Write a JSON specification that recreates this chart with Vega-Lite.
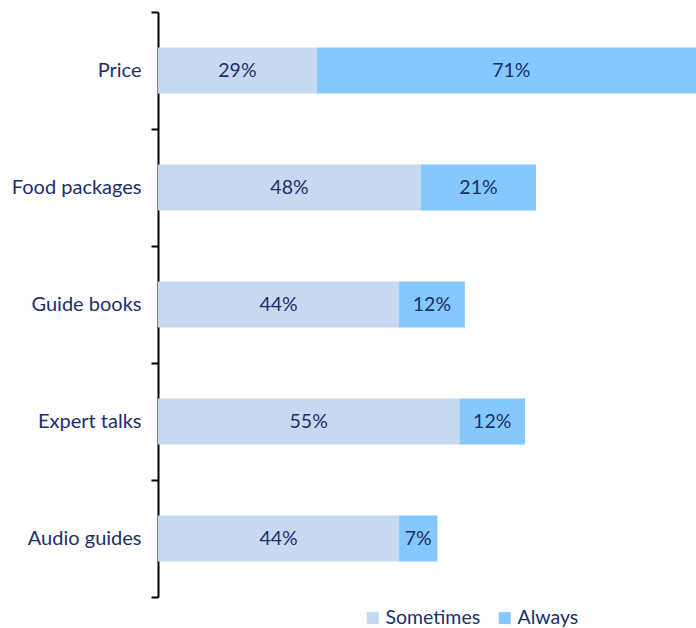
{
  "$schema": "https://vega.github.io/schema/vega-lite/v6.json",
  "autosize": "none",
  "padding": {"left": 158, "top": 12, "right": 0, "bottom": 31},
  "width": 538,
  "height": 585,
  "background": "white",
  "config": {"view": {"stroke": null}, "font": "Lato"},
  "data": {
    "values": [
      {"item": "Price", "series": "Sometimes", "pct": 29},
      {"item": "Price", "series": "Always", "pct": 71},
      {"item": "Food packages", "series": "Sometimes", "pct": 48},
      {"item": "Food packages", "series": "Always", "pct": 21},
      {"item": "Guide books", "series": "Sometimes", "pct": 44},
      {"item": "Guide books", "series": "Always", "pct": 12},
      {"item": "Expert talks", "series": "Sometimes", "pct": 55},
      {"item": "Expert talks", "series": "Always", "pct": 12},
      {"item": "Audio guides", "series": "Sometimes", "pct": 44},
      {"item": "Audio guides", "series": "Always", "pct": 7}
    ]
  },
  "transform": [
    {"stack": "pct", "groupby": ["item"], "sort": [{"field": "series", "order": "descending"}], "as": ["x0", "x1"]},
    {"calculate": "(datum.x0 + datum.x1) / 2", "as": "xm"},
    {"calculate": "datum.pct + '%'", "as": "lbl"}
  ],
  "encoding": {
    "y": {
      "field": "item",
      "type": "nominal",
      "sort": null,
      "scale": {"paddingInner": 0, "paddingOuter": 0},
      "axis": {
        "title": null,
        "domainColor": "black",
        "domainWidth": 2,
        "tickColor": "black",
        "tickWidth": 2,
        "tickSize": 7,
        "tickBand": "extent",
        "labelFontSize": 20,
        "labelColor": "#1b2f6b",
        "labelPadding": 10,
        "labelFont": "Lato"
      }
    }
  },
  "layer": [
    {
      "mark": {"type": "bar", "height": 46, "clip": true},
      "encoding": {
        "x": {"field": "x0", "type": "quantitative", "scale": {"domain": [0, 98.2], "nice": false, "zero": true}, "axis": null},
        "x2": {"field": "x1"},
        "color": {
          "field": "series",
          "type": "nominal",
          "scale": {"domain": ["Sometimes", "Always"], "range": ["#c6d9f1", "#85c8fd"]},
          "legend": {
            "title": null,
            "orient": "none",
            "direction": "horizontal",
            "legendX": 205,
            "legendY": 596,
            "symbolType": "square",
            "symbolSize": 144,
            "symbolStrokeWidth": 0,
            "symbolOpacity": 1,
            "labelFontSize": 19.5,
            "labelColor": "#1b2f6b",
            "labelFont": "Lato",
            "labelOffset": 3,
            "columnPadding": 14
          }
        }
      }
    },
    {
      "mark": {"type": "text", "fontSize": 19.5, "color": "#1b2f6b", "font": "Lato"},
      "encoding": {
        "x": {"field": "xm", "type": "quantitative"},
        "text": {"field": "lbl"}
      }
    }
  ]
}
